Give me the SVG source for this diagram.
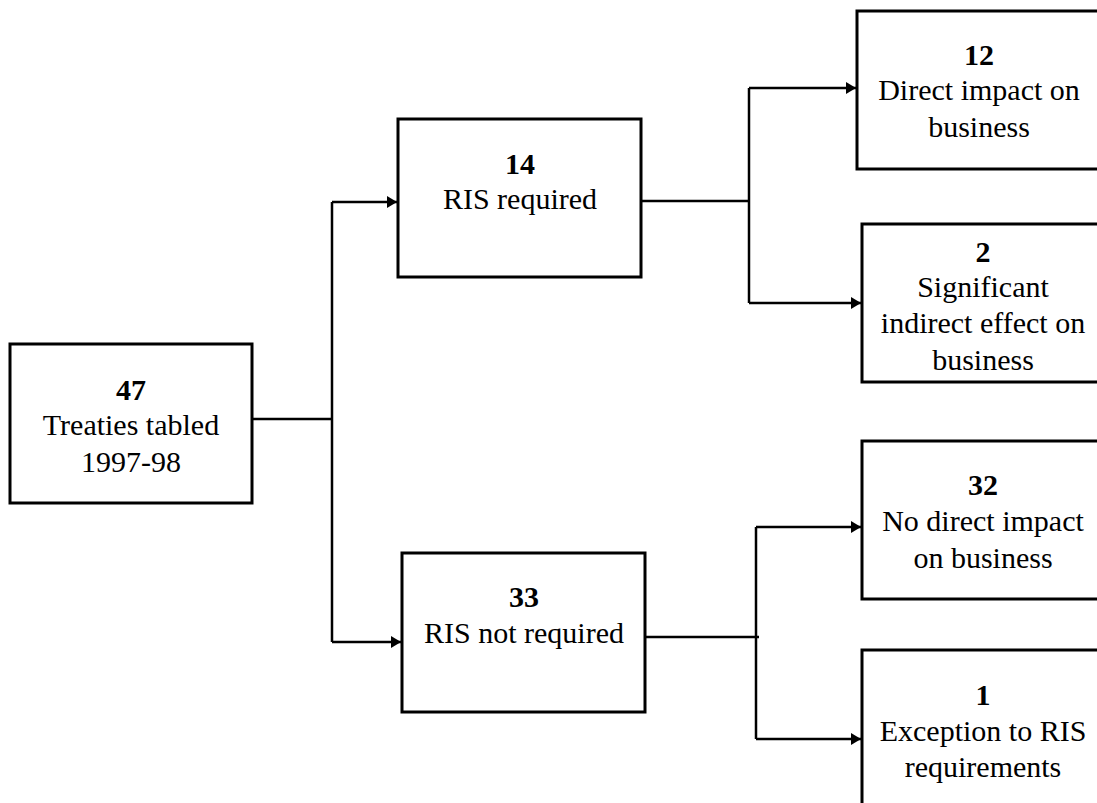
<svg xmlns="http://www.w3.org/2000/svg" width="1097" height="803" viewBox="0 0 1097 803">
<style>
.box{fill:#fff;stroke:#000;stroke-width:3}
.t{font-family:"Liberation Serif","Times New Roman",serif;font-size:30px;fill:#000;text-anchor:middle}
.b{font-weight:bold}
.c{fill:none;stroke:#000;stroke-width:2.5}
</style>
<defs>
<marker id="ah" viewBox="0 0 10 12" refX="10" refY="6" markerWidth="10" markerHeight="12" markerUnits="userSpaceOnUse" orient="auto">
<path d="M0,0 L10,6 L0,12 Z" fill="#000"/>
</marker>
</defs>
<rect width="1097" height="803" fill="#fff"/>
<g id="connectors">
<path class="c" d="M252,419 H332"/>
<path class="c" d="M332,202 V642"/>
<path class="c" d="M332,202 H397" marker-end="url(#ah)"/>
<path class="c" d="M332,642 H401" marker-end="url(#ah)"/>
<path class="c" d="M641,201 H749"/>
<path class="c" d="M749,88 V303"/>
<path class="c" d="M749,88 H856" marker-end="url(#ah)"/>
<path class="c" d="M749,303 H861" marker-end="url(#ah)"/>
<path class="c" d="M645,637 H759"/>
<path class="c" d="M756,527 V739"/>
<path class="c" d="M756,527 H861" marker-end="url(#ah)"/>
<path class="c" d="M756,739 H861" marker-end="url(#ah)"/>
</g>
<g id="n47">
<rect class="box" x="10" y="344" width="242" height="159"/>
<text class="t b" x="131" y="400">47</text>
<text class="t" x="131" y="435">Treaties tabled</text>
<text class="t" x="131" y="472">1997-98</text>
</g>
<g id="n14">
<rect class="box" x="398" y="119" width="243" height="158"/>
<text class="t b" x="520" y="174">14</text>
<text class="t" x="520" y="209">RIS required</text>
</g>
<g id="n33">
<rect class="box" x="402" y="553" width="243" height="159"/>
<text class="t b" x="524" y="607">33</text>
<text class="t" x="524" y="643">RIS not required</text>
</g>
<g id="n12">
<rect class="box" x="857" y="11" width="260" height="158"/>
<text class="t b" x="979" y="65">12</text>
<text class="t" x="979" y="100">Direct impact on</text>
<text class="t" x="979" y="137">business</text>
</g>
<g id="n2">
<rect class="box" x="862" y="224" width="260" height="158"/>
<text class="t b" x="983" y="262">2</text>
<text class="t" x="983" y="297">Significant</text>
<text class="t" x="983" y="333">indirect effect on</text>
<text class="t" x="983" y="370">business</text>
</g>
<g id="n32">
<rect class="box" x="862" y="441" width="260" height="158"/>
<text class="t b" x="983" y="495">32</text>
<text class="t" x="983" y="531">No direct impact</text>
<text class="t" x="983" y="568">on business</text>
</g>
<g id="n1">
<rect class="box" x="862" y="650" width="260" height="180"/>
<text class="t b" x="983" y="705">1</text>
<text class="t" x="983" y="741">Exception to RIS</text>
<text class="t" x="983" y="777">requirements</text>
</g>
</svg>
